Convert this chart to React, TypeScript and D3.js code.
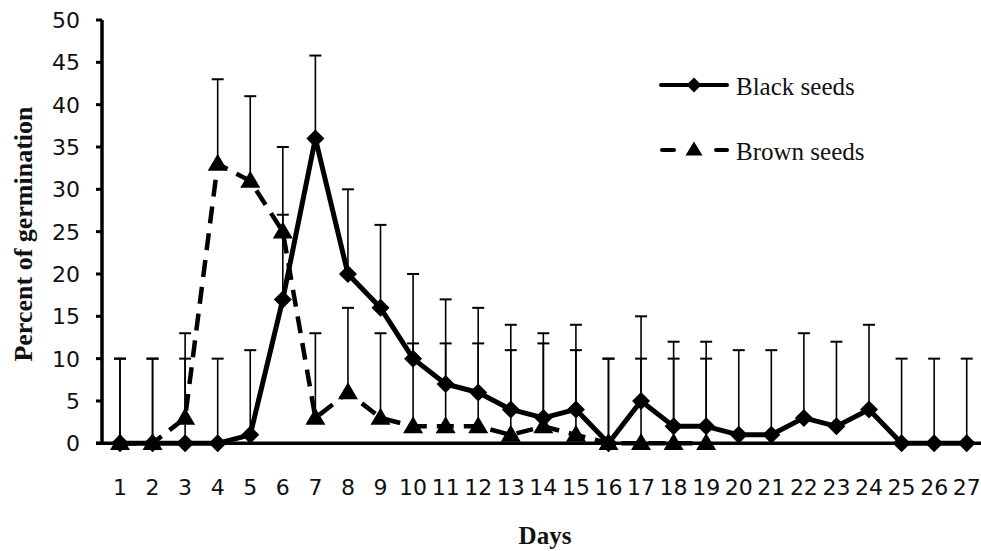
import React from 'react';
import * as d3 from 'd3';

const dayLabels = ["1","2","3","4","5","6","7","8","9","10","11","12","13","14","15","16","17","18","19","20","21","22","23","24","25","26","27"];
const blackSeeds = [0,0,0,0,1,17,36,20,16,10,7,6,4,3,4,0,5,2,2,1,1,3,2,4,0,0,0];
const blackErr = [10,10,10,10,10,10,9.8,10,9.8,10,10,10,10,10,10,10,10,10,10,10,10,10,10,10,10,10,10];
const brownSeeds: (number | null)[] = [0,0,3,33,31,25,3,6,3,2,2,2,1,2,1,0,0,0,0,null,null,null,null,null,null,null,null];
const brownErr: (number | null)[] = [10,10,10,10,10,10,10,10,10,9.8,9.8,9.8,10,9.8,10,10,10,10,10,null,null,null,null,null,null,null,null];
const yTicks = [0,5,10,15,20,25,30,35,40,45,50];
const seriesNames = ["Black seeds", "Brown seeds"];

const W = 981, H = 551;
const x = d3.scaleBand<string>().domain(dayLabels).range([103.7, 983]);
const y = d3.scaleLinear().domain([0, 50]).range([443.3, 20]);
const cx = (d: string) => (x(d) as number) + x.bandwidth() / 2;

const diamondPath = (px: number, py: number, r: number) =>
  `M${px},${py - r}L${px + r},${py}L${px},${py + r}L${px - r},${py}Z`;
const triPath = (px: number, py: number, w: number, h: number) =>
  `M${px},${py - h * 0.6}L${px + w / 2},${py + h * 0.4}L${px - w / 2},${py + h * 0.4}Z`;

export default function App() {
  const blackLine = d3.line<number>().x((_, i) => cx(dayLabels[i])).y(v => y(v))(blackSeeds) as string;
  const brownLine = d3.line<number | null>()
    .defined(v => v !== null)
    .x((_, i) => cx(dayLabels[i])).y(v => y(v as number))(brownSeeds) as string;

  const errBars: { x: number; y0: number; y1: number }[] = [];
  dayLabels.forEach((d, i) => {
    errBars.push({ x: cx(d), y0: y(blackSeeds[i]), y1: y(blackSeeds[i] + blackErr[i]) });
    const b = brownSeeds[i], e = brownErr[i];
    if (b !== null && e !== null) errBars.push({ x: cx(d), y0: y(b), y1: y(b + e) });
  });

  const numFont = "'DejaVu Sans', sans-serif";
  const serif = "'Liberation Serif', 'Times New Roman', serif";

  return (
    <svg width={W} height={H} style={{ position: 'absolute', left: 0, top: 0, background: '#fff' }}>
      <rect width={W} height={H} fill="#fff" />
      {/* error bars */}
      <g stroke="#000" strokeWidth={1.6}>
        {errBars.map((e, i) => (
          <g key={i}>
            <line x1={e.x} x2={e.x} y1={e.y0} y2={e.y1} />
            <line x1={e.x - 6} x2={e.x + 6} y1={e.y1} y2={e.y1} strokeWidth={2} />
          </g>
        ))}
      </g>
      {/* axes */}
      <line x1={102} x2={102} y1={y(50)} y2={y(0) + 1.5} stroke="#000" strokeWidth={3.5} />
      {yTicks.map(t => (
        <g key={t}>
          <line x1={96} x2={102} y1={y(t)} y2={y(t)} stroke="#000" strokeWidth={3} />
          <text x={80} y={y(t)} dy="0.36em" textAnchor="end" fontFamily={numFont} fontSize={22} fill="#111">{t}</text>
        </g>
      ))}
      <line x1={96} x2={981} y1={y(0)} y2={y(0)} stroke="#000" strokeWidth={3.5} />
      {dayLabels.map(d => (
        <text key={d} x={cx(d)} y={495} textAnchor="middle" fontFamily={numFont} fontSize={22} fill="#111">{d}</text>
      ))}
      {/* black series */}
      <path d={blackLine} fill="none" stroke="#000" strokeWidth={5} strokeLinejoin="round" />
      {blackSeeds.map((v, i) => (
        <path key={i} d={diamondPath(cx(dayLabels[i]), y(v), 9)} fill="#000" />
      ))}
      {/* brown series */}
      <path d={brownLine} fill="none" stroke="#000" strokeWidth={4.5} strokeDasharray="17,10" />
      {brownSeeds.map((v, i) => v === null ? null : (
        <path key={i} d={triPath(cx(dayLabels[i]), y(v), 20, 17)} fill="#000" />
      ))}
      {/* legend */}
      <line x1={661} x2={727} y1={85} y2={85} stroke="#000" strokeWidth={4} strokeLinecap="round" />
      <path d={diamondPath(694, 85, 7.5)} fill="#000" />
      <text x={736} y={95} fontFamily={serif} fontSize={25} fill="#111" >{seriesNames[0]}</text>
      <line x1={662} x2={674} y1={150} y2={150} stroke="#000" strokeWidth={4} strokeLinecap="round" />
      <line x1={716} x2={727} y1={150} y2={150} stroke="#000" strokeWidth={4} strokeLinecap="round" />
      <path d={triPath(694, 150, 17, 14)} fill="#000" />
      <text x={736} y={159.5} fontFamily={serif} fontSize={25} fill="#111">{seriesNames[1]}</text>
      {/* axis titles */}
      <text transform={`translate(32,234) rotate(-90)`} textAnchor="middle" fontFamily={serif} fontWeight="bold" fontSize={26} fill="#111">Percent of germination</text>
      <text x={545} y={544} textAnchor="middle" fontFamily={serif} fontWeight="bold" fontSize={25} fill="#111">Days</text>
    </svg>
  );
}
